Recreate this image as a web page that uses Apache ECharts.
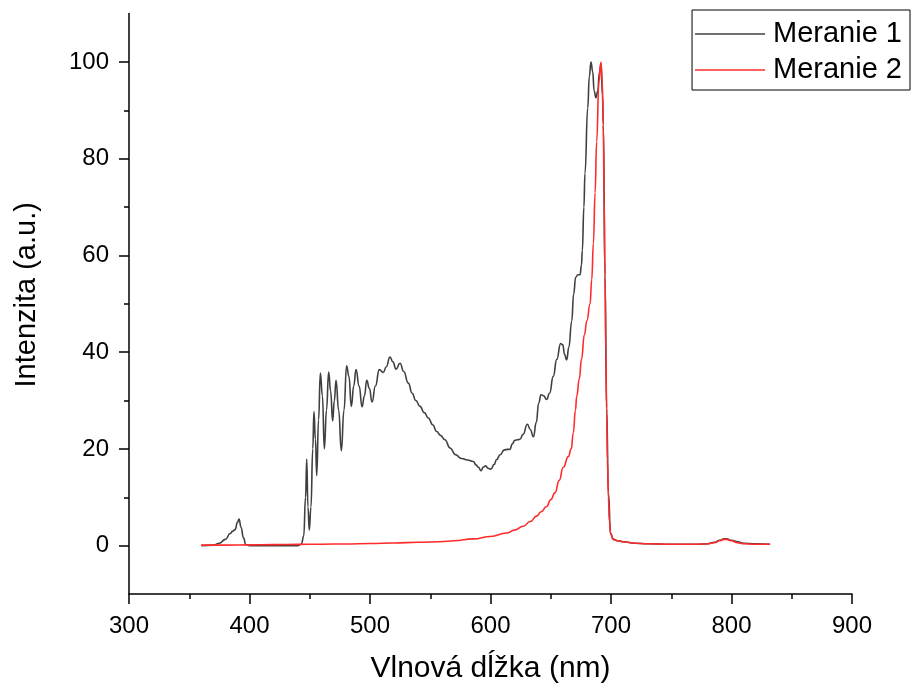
<!DOCTYPE html>
<html>
<head>
<meta charset="utf-8">
<script src="https://cdn.jsdelivr.net/npm/echarts@6/dist/echarts.min.js"></script>
<style>html,body{margin:0;padding:0;background:#fff}#c{width:912px;height:688px}</style>
</head>
<body>
<div id="c"></div>
<script>
// Meranie 1 (black)
const m1Wavelength = [360,370,375,380,384,386,388,390,391.3,393,395,397,400,420,440,443,445,446.5,447.5,448.5,449.6,451,452.5,453.5,454.7,455.8,457.3,458.8,460.5,462.1,463.9,465.7,467.3,469,470.4,471.8,474,476.2,478.4,480.6,482.5,484.5,486.5,488.4,491,493.4,495.4,497.3,499.5,501.7,504.5,507.7,511,513.5,516.6,519,521.6,524.9,528,531.8,535,538,541.5,545,548.4,552,555.3,558.5,562.2,566.4,571,576.1,581,585.7,588,590,592.1,594,596,598,600.4,603,605.1,608,611.5,614,616.2,618,620.3,622.5,624.5,627,630.6,633,635.6,638,640,641.9,644,646.6,649,652.1,655,658.2,660,661.5,663.2,665,667.4,669,670.7,672.5,674.3,675.5,676.2,677.5,678.4,680.7,682,683.4,684.8,686,687.5,689,690.3,691.7,693,693.6,695,696.4,697.8,699.7,702,706,710,720,730,750,770,780,786,790,794,796,800,805,810,820,832];
const m1Intensity = [0,0.1,0.5,1.3,2.5,3.0,3.3,4.8,5.5,3.8,1.6,0.2,0,0,0,0.3,2,10,17.9,8,3.2,8,20,27.7,22,14.5,26,35.7,31,20,28,35.9,32,25.8,30,34.2,28,19.6,28,37.2,35,28.8,33,36.4,33,28.7,31,34.2,32.5,29.7,33,36.4,35.8,37,39,38,36.5,37.7,36,33.6,31.5,30,28.8,27.5,26.4,25,23.6,22.8,21.9,20.2,18.8,18.0,17.7,17.4,16.7,16.2,15.5,16.2,16.5,16.0,15.8,16.8,17.8,18.8,19.8,19.9,19.9,21,21.8,21.9,22.0,23,25.1,24,22.5,25.5,29.5,31.2,31,30.2,31.5,35.0,38.5,41.8,41.5,39.5,38.4,41,46.4,52,55.5,56,56,58,61,70,77,90.5,97,100,98,94,92.6,94,97.7,99.5,93,87,56,28.5,11,2.5,1.3,1.0,0.8,0.5,0.4,0.3,0.3,0.4,0.7,1.1,1.4,1.4,1.1,0.8,0.5,0.4,0.3];

// Meranie 2 (red)
const m2Wavelength = [360,380,400,420,440,460,480,500,520,540,558,570,585.7,600,613.4,620,627.2,633,638.3,642,646.6,650,653.5,657,660.4,664.6,667,668.7,670.5,671.5,673.7,675.5,677.9,680,682.6,684,685.4,686.8,688.1,690,691.7,692.7,693.6,694.3,695,695.7,696.4,697.1,697.8,698.7,699.7,702,706,710,720,730,750,770,780,786,790,794,796,800,805,810,820,832];
const m2Intensity = [0.1,0.1,0.15,0.2,0.25,0.3,0.35,0.45,0.55,0.7,0.8,1.0,1.4,1.9,2.6,3.2,4.0,5,6.1,7,8.1,9.5,10.9,13.5,16.2,18.4,20,23.3,28,30.8,34.5,38.5,43.6,46.5,49.9,55,62.5,73,83.5,96,100,96,87,72,55.5,40,27.5,17.5,10,5,2.3,1.3,1.0,0.8,0.5,0.4,0.3,0.3,0.35,0.6,1.0,1.3,1.3,1.0,0.6,0.4,0.3,0.3];

const yMajorTicks = [0,20,40,60,80,100];
const yMinorTicks = [10,30,50,70,90];
const seriesNames = ['Meranie 1','Meranie 2'];

const zip = (xs, ys) => xs.map((x, i) => [x, ys[i]]);
const FONT = '"Liberation Sans", Arial, sans-serif';

const chart = echarts.init(document.getElementById('c'), null, {renderer: 'canvas'});
chart.setOption({
  animation: false,
  backgroundColor: '#fff',
  grid: {left: 129, right: 60, top: 13.6, bottom: 94, containLabel: false, outerBoundsMode: 'none'},
  legend: {
    orient: 'vertical', right: 2, top: 10,
    borderColor: '#000', borderWidth: 1, borderRadius: 0,
    padding: [9, 8, 5, 3],
    icon: 'rect',
    itemWidth: 70, itemHeight: 1.6, itemGap: 6,
    textStyle: {fontFamily: FONT, fontSize: 29, color: '#000', lineHeight: 30, padding: [0, 0, 0, 3]},
    data: seriesNames
  },
  xAxis: {
    type: 'value', min: 300, max: 900, interval: 100,
    name: 'Vlnová dĺžka (nm)', nameLocation: 'middle', nameGap: 60,
    nameTextStyle: {fontFamily: FONT, fontSize: 30, color: '#000'},
    axisLine: {show: true, onZero: false, lineStyle: {color: '#000', width: 1.5}},
    axisTick: {show: true, length: 10, lineStyle: {color: '#000', width: 1.5}},
    minorTick: {show: true, splitNumber: 2, length: 5, lineStyle: {color: '#000', width: 1.5}},
    axisLabel: {fontFamily: FONT, fontSize: 24, color: '#000', margin: 20},
    splitLine: {show: false}
  },
  yAxis: [{
    type: 'value', min: -10, max: 110,
    name: 'Intenzita (a.u.)', nameLocation: 'middle', nameGap: 88, nameRotate: 90,
    nameTextStyle: {fontFamily: FONT, fontSize: 29, color: '#000', padding: [0, 0, 0, 18]},
    axisLine: {show: true, onZero: false, lineStyle: {color: '#000', width: 1.5}},
    axisTick: {show: true, length: 10, customValues: yMajorTicks, lineStyle: {color: '#000', width: 1.5}},
    axisLabel: {fontFamily: FONT, fontSize: 24, color: '#000', margin: 20, customValues: yMajorTicks},
    splitLine: {show: false}
  }, {
    type: 'value', min: -10, max: 110, position: 'left',
    axisLine: {show: false},
    axisTick: {show: true, length: 5, customValues: yMinorTicks, lineStyle: {color: '#000', width: 1.5}},
    axisLabel: {show: false},
    splitLine: {show: false}
  }],
  series: [{
    name: seriesNames[0], type: 'line', data: zip(m1Wavelength, m1Intensity),
    yAxisIndex: 0, symbol: 'none', smooth: 0.5, smoothMonotone: 'x',
    lineStyle: {color: '#404040', width: 1.6}, itemStyle: {color: '#404040'}, z: 2
  }, {
    name: seriesNames[1], type: 'line', data: zip(m2Wavelength, m2Intensity),
    yAxisIndex: 0, symbol: 'none', smooth: 0.5, smoothMonotone: 'x',
    lineStyle: {color: '#ff2b2b', width: 1.6}, itemStyle: {color: '#ff2b2b'}, z: 3
  }]
});
</script>
</body>
</html>
